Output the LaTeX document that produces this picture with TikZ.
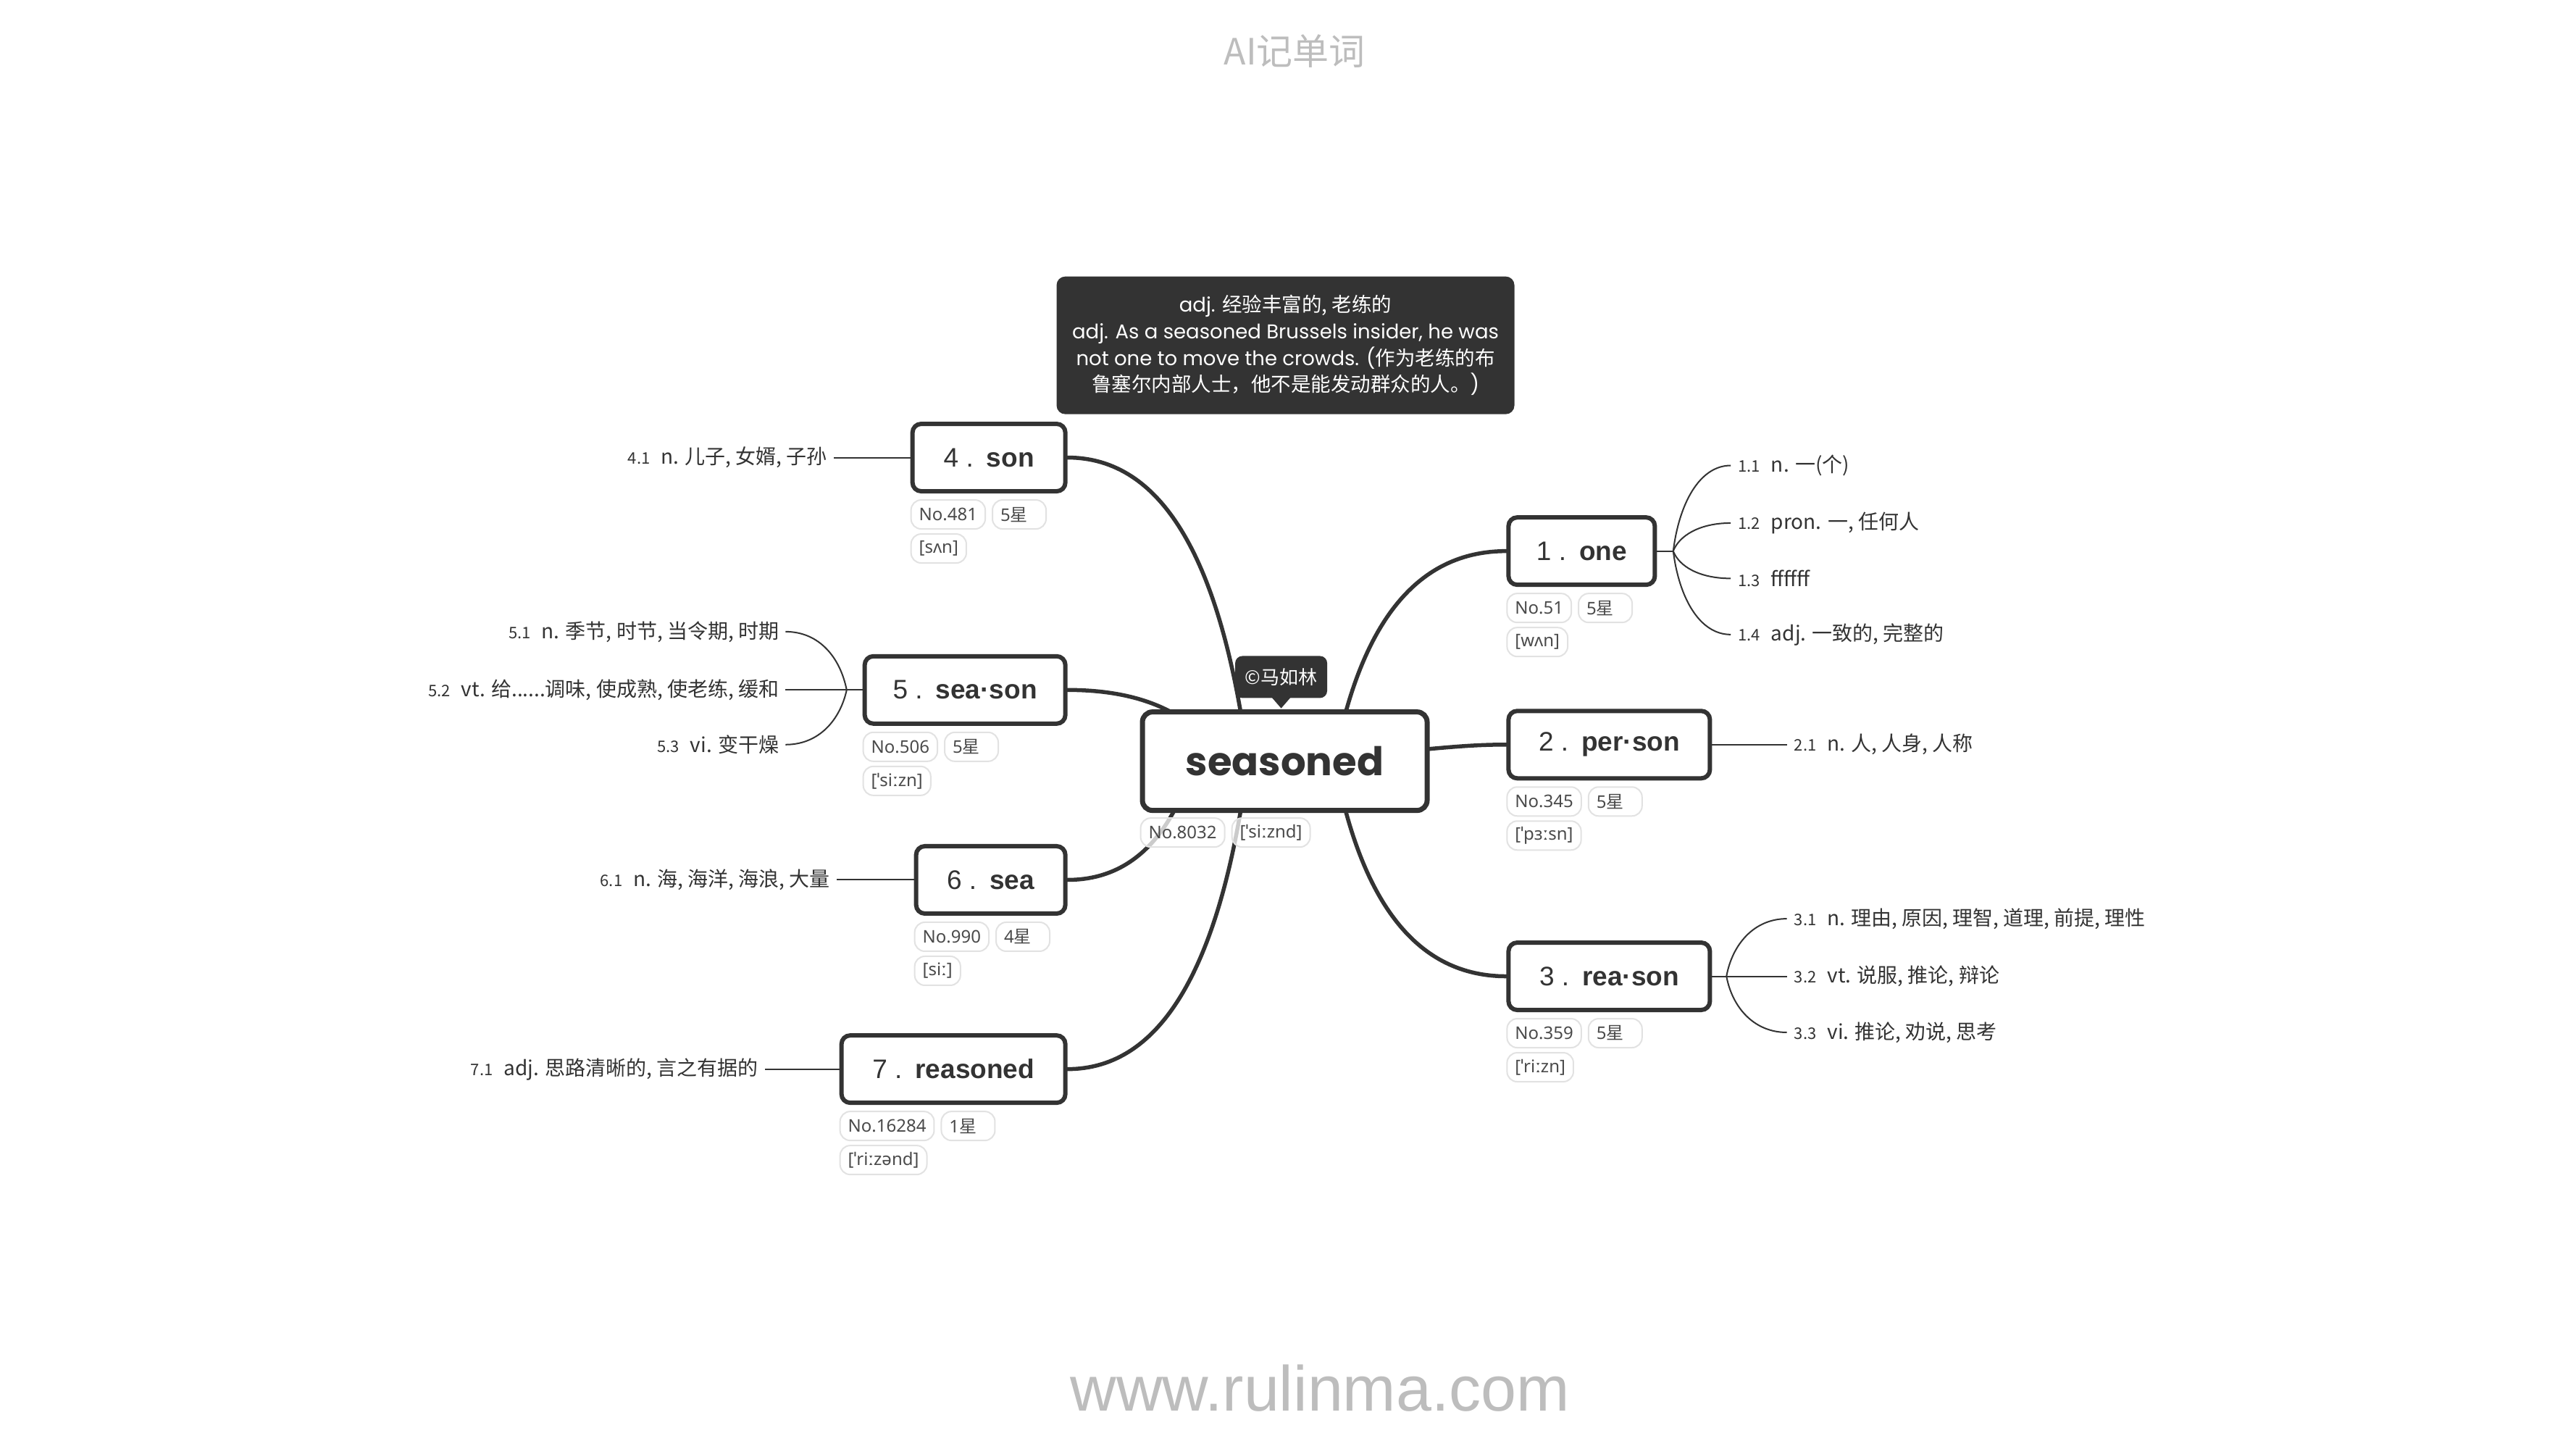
\documentclass[tikz,border=0pt]{standalone}
\usepackage{fontspec}
\setmainfont{Noto Sans CJK SC}
\newfontfamily\lib{Liberation Sans}
\newfontfamily\pop{Poppins}
\newfontfamily\cjk{Noto Sans CJK SC}
\newfontfamily\nsans{Noto Sans}
\usetikzlibrary{calc}
\pgfdeclarelayer{paper}
\pgfdeclarelayer{background}
\pgfsetlayers{paper,background,main}
\definecolor{dark}{HTML}{333333}
\definecolor{pillgray}{HTML}{E2E2E2}
\definecolor{pilltext}{HTML}{4A4A4A}
\definecolor{lightgray}{HTML}{BDBDBD}
\newcommand\lnum[1]{{\fontsize{22}{26}\selectfont #1}\hspace{15pt}}
\tikzset{
  wordbox/.style={draw=dark, line width=6pt, rounded corners=12pt, fill=white,
    minimum height=93pt, inner sep=0pt, text=dark, font=\lib\fontsize{37}{40}\selectfont},
  rootbox/.style={draw=dark, line width=7pt, rounded corners=14pt, fill=white,
    minimum width=393pt, minimum height=136pt, inner sep=0pt, text=dark,
    font=\pop\bfseries\fontsize{54.5}{60}\selectfont},
  pill/.style={draw=pillgray, line width=2pt, rounded corners=14pt, fill=white,
    fill opacity=0.75, text opacity=1, minimum height=40pt, inner xsep=11pt, inner ysep=0pt,
    text=pilltext, font=\nsans\fontsize{24}{28}\selectfont},
  starpill/.style={pill, text width=52pt, align=left},
  leaf/.style={text=dark, inner ysep=0pt, font=\fontsize{28}{33}\selectfont},
  leafR/.style={leaf, anchor=west, inner xsep=10pt},
  leafL/.style={leaf, anchor=east, inner xsep=9pt},
  mainline/.style={draw=dark, line width=5.5pt, line cap=round},
  subline/.style={draw=dark, line width=2pt},
  darkbox/.style={fill=dark, text=white, inner sep=0pt},
}
\begin{document}
\begin{tikzpicture}[x=0.993pt,y=-0.993pt]
\begin{pgfonlayer}{paper}
\fill[white] (0,0) rectangle (3581,2014);
\end{pgfonlayer}
\useasboundingbox (0,0) rectangle (3581,2014);

% title and watermark
\node[text=lightgray, font=\fontsize{50}{56}\selectfont] (title) at (1800,71) {AI记单词};
\node[text=lightgray, font=\lib\fontsize{88}{96}\selectfont] (wm) at (1835,1929) {www.rulinma.com};

% root
\node[rootbox] (root) at (1786,1058) {seasoned};
\node[pill, anchor=north west] (rno) at ([yshift=-6pt]root.south west) {No.8032};
\node[pill, anchor=north west] (ripa) at ([xshift=8pt]rno.north east) {[ˈsiːznd]};

% copyright bubble
\node[darkbox, rounded corners=10pt, minimum width=127pt, minimum height=58pt,
  font=\cjk\fontsize{26}{30}\selectfont] (copy) at (1781,941) {©马如林};
\fill[dark] ([xshift=-13pt,yshift=1pt]copy.south) -- ([xshift=13pt,yshift=1pt]copy.south)
  -- ([yshift=-14pt]copy.south) -- cycle;

% tooltip
\node[darkbox, rounded corners=12pt, minimum width=632pt, minimum height=190pt, align=center,
  font=\pop\fontsize{27.5}{36.6}\selectfont] (tooltip) at (1787,480)
  {adj. {\cjk 经验丰富的, 老练的}\\
   adj. As a seasoned Brussels insider, he was\\
   not one to move the crowds. ({\cjk 作为老练的布}\\
   {\cjk 鲁塞尔内部人士，他不是能发动群众的人。})};

% right branches
\node[wordbox, minimum width=202pt, anchor=west] (one) at (2094,766) {1 .\hspace{18pt}\textbf{one}};
\node[wordbox, minimum width=278pt, anchor=west] (person) at (2094,1035) {2 .\hspace{18pt}\textbf{per·son}};
\node[wordbox, minimum width=278pt, anchor=west] (reason) at (2094,1357) {3 .\hspace{18pt}\textbf{rea·son}};

% left branches
\node[wordbox, minimum width=211pt, anchor=east] (son) at (1484,636) {4 .\hspace{18pt}\textbf{son}};
\node[wordbox, minimum width=277pt, anchor=east] (season) at (1484,959) {5 .\hspace{18pt}\textbf{sea·son}};
\node[wordbox, minimum width=206pt, anchor=east] (sea) at (1484,1223) {6 .\hspace{18pt}\textbf{sea}};
\node[wordbox, minimum width=309pt, anchor=east] (reasoned) at (1484,1486) {7 .\hspace{18pt}\textbf{reasoned}};

% pills
\node[pill, anchor=north west] (oneno) at ([yshift=-8pt]one.south west) {No.51};
\node[starpill, anchor=north west] (onestar) at ([xshift=8pt]oneno.north east) {5{\cjk 星}};
\node[pill, anchor=north west] (oneipa) at ([yshift=-5pt]oneno.south west) {[wʌn]};

\node[pill, anchor=north west] (perno) at ([yshift=-8pt]person.south west) {No.345};
\node[starpill, anchor=north west] (perstar) at ([xshift=8pt]perno.north east) {5{\cjk 星}};
\node[pill, anchor=north west] (peripa) at ([yshift=-5pt]perno.south west) {[ˈpɜːsn]};

\node[pill, anchor=north west] (reano) at ([yshift=-8pt]reason.south west) {No.359};
\node[starpill, anchor=north west] (reastar) at ([xshift=8pt]reano.north east) {5{\cjk 星}};
\node[pill, anchor=north west] (reaipa) at ([yshift=-5pt]reano.south west) {[ˈriːzn]};

\node[pill, anchor=north west] (sonno) at ([yshift=-8pt]son.south west) {No.481};
\node[starpill, anchor=north west] (sonstar) at ([xshift=8pt]sonno.north east) {5{\cjk 星}};
\node[pill, anchor=north west] (sonipa) at ([yshift=-5pt]sonno.south west) {[sʌn]};

\node[pill, anchor=north west] (seasno) at ([yshift=-8pt]season.south west) {No.506};
\node[starpill, anchor=north west] (seasstar) at ([xshift=8pt]seasno.north east) {5{\cjk 星}};
\node[pill, anchor=north west] (seasipa) at ([yshift=-5pt]seasno.south west) {[ˈsiːzn]};

\node[pill, anchor=north west] (seano) at ([yshift=-8pt]sea.south west) {No.990};
\node[starpill, anchor=north west] (seastar) at ([xshift=8pt]seano.north east) {4{\cjk 星}};
\node[pill, anchor=north west] (seaipa) at ([yshift=-5pt]seano.south west) {[siː]};

\node[pill, anchor=north west] (rsdno) at ([yshift=-8pt]reasoned.south west) {No.16284};
\node[starpill, anchor=north west] (rsdstar) at ([xshift=8pt]rsdno.north east) {1{\cjk 星}};
\node[pill, anchor=north west] (rsdipa) at ([yshift=-5pt]rsdno.south west) {[ˈriːzənd]};

% leaf labels
\node[leafR] (l11) at (2406,647) {\lnum{1.1}n. 一(个)};
\node[leafR] (l12) at (2406,727) {\lnum{1.2}pron. 一, 任何人};
\node[leafR] (l13) at (2406,804) {\lnum{1.3}ffffff};
\node[leafR] (l14) at (2406,882) {\lnum{1.4}adj. 一致的, 完整的};
\node[leafR] (l21) at (2484,1035) {\lnum{2.1}n. 人, 人身, 人称};
\node[leafR] (l31) at (2484,1277) {\lnum{3.1}n. 理由, 原因, 理智, 道理, 前提, 理性};
\node[leafR] (l32) at (2484,1357) {\lnum{3.2}vt. 说服, 推论, 辩论};
\node[leafR] (l33) at (2484,1435) {\lnum{3.3}vi. 推论, 劝说, 思考};
\node[leafL] (l41) at (1159,636) {\lnum{4.1}n. 儿子, 女婿, 子孙};
\node[leafL] (l51) at (1092,878) {\lnum{5.1}n. 季节, 时节, 当令期, 时期};
\node[leafL] (l52) at (1092,959) {\lnum{5.2}vt. 给......调味, 使成熟, 使老练, 缓和};
\node[leafL] (l53) at (1092,1035) {\lnum{5.3}vi. 变干燥};
\node[leafL] (l61) at (1163,1223) {\lnum{6.1}n. 海, 海洋, 海浪, 大量};
\node[leafL] (l71) at (1063,1486) {\lnum{7.1}adj. 思路清晰的, 言之有据的};

% junction points and start points
\coordinate (j1) at (2326,766);
\coordinate (j3) at (2400,1357);
\coordinate (j5) at (1177,959);
\coordinate (sR) at (1855,1058);
\coordinate (sP) at (1900,1048);
\coordinate (sT) at (1735,1058);
\coordinate (sS) at (1700,1058);
\coordinate (sE) at (1660,1058);

\begin{pgfonlayer}{background}
% main connectors
\draw[mainline] (sR) .. controls (1892,863) and (1971,766) .. (one.west);
\draw[mainline] (sP) .. controls (1990,1042) and (2030,1035) .. (person.west);
\draw[mainline] (sR) .. controls (1892,1257) and (1971,1357) .. (reason.west);
\draw[mainline] (sT) .. controls (1698,776) and (1615,636) .. (son.east);
\draw[mainline] (sS) .. controls (1660,992) and (1588,959) .. (season.east);
\draw[mainline] (sE) .. controls (1627,1168) and (1568,1223) .. (sea.east);
\draw[mainline] (sT) .. controls (1698,1343) and (1615,1486) .. (reasoned.east);
% sub connectors
\draw[subline] (one.east) -- (j1);
\draw[subline] (j1) .. controls (2334,701) and (2362,647) .. (l11.west);
\draw[subline] (j1) .. controls (2334,745) and (2362,727) .. (l12.west);
\draw[subline] (j1) .. controls (2334,787) and (2362,804) .. (l13.west);
\draw[subline] (j1) .. controls (2334,830) and (2362,882) .. (l14.west);
\draw[subline] (person.east) -- (l21.west);
\draw[subline] (reason.east) -- (j3);
\draw[subline] (j3) .. controls (2408,1313) and (2438,1277) .. (l31.west);
\draw[subline] (j3) -- (l32.west);
\draw[subline] (j3) .. controls (2408,1400) and (2438,1435) .. (l33.west);
\draw[subline] (son.west) -- (l41.east);
\draw[subline] (season.west) -- (j5);
\draw[subline] (j5) .. controls (1168,914) and (1139,878) .. (l51.east);
\draw[subline] (j5) -- (l52.east);
\draw[subline] (j5) .. controls (1168,1000) and (1139,1035) .. (l53.east);
\draw[subline] (sea.west) -- (l61.east);
\draw[subline] (reasoned.west) -- (l71.east);
\end{pgfonlayer}
\end{tikzpicture}
\end{document}
